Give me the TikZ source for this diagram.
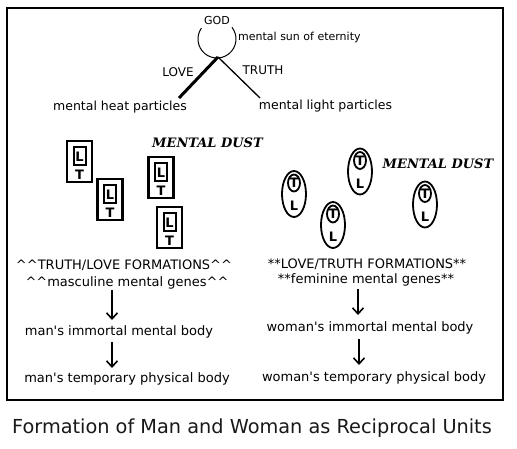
\documentclass[tikz,border=0pt]{standalone}
\usepackage{fontspec}
\setmainfont{DejaVu Sans}
\newfontfamily\dustfont{DejaVu Serif}
\usetikzlibrary{arrows.meta}
\newcommand{\ap}{\textquotesingle}
\tikzset{
  txt/.style={inner sep=0pt, font=\fontsize{13}{15}\selectfont},
  small/.style={inner sep=0pt, font=\fontsize{12}{14}\selectfont},
  big/.style={inner sep=0pt, font=\fontsize{12.5}{15}\selectfont},
  dust/.style={inner sep=0pt, font=\dustfont\bfseries\itshape\fontsize{13}{15}\selectfont},
  tok/.style={inner sep=0pt, font=\bfseries\fontsize{13}{15}\selectfont},
  arr/.style={line width=2pt, -{Straight Barb[length=6pt,width=11pt,line width=1.6pt]}},
  ltbox/.pic={
    \draw[line width=2.6pt] (-12.5,0) rectangle (12.5,41);
    \draw[line width=2pt] (-6,6) rectangle (6,24);
    \node[tok] at (0,15.5) {L};
    \node[tok] at (0,34) {T};
  },
  tlegg/.pic={
    \draw[line width=1.8pt] (0,0) ellipse [x radius=12, y radius=23];
    \draw[line width=1.8pt] (0,-11) ellipse [x radius=6, y radius=8.5];
    \node[tok] at (0,-11) {T};
    \node[tok] at (0,12) {L};
  }
}
\begin{document}
\begin{tikzpicture}[x=1pt,y=-1pt]
\useasboundingbox (0,0) rectangle (517,449);
\fill[white] (0,0) rectangle (517,449);
\draw[line width=1.3pt] (7,8) rectangle (503,400);

% top: God
\node[inner sep=0pt, font=\fontsize{11}{13}\selectfont] (god) at (217,20) {GOD};
\draw[line width=1pt] (217,39) ++(322:19) arc[start angle=322, end angle=575, radius=19];
\node[inner sep=0pt, font=\fontsize{11}{13}\selectfont, anchor=west] (sun) at (238,37) {mental sun of eternity};
\coordinate (apex) at (218,57);
\coordinate (heatend) at (179,98);
\coordinate (lightend) at (260,98);
\draw[line width=3pt] (apex) -- (heatend);
\draw[line width=1.3pt] (apex) -- (lightend);
\node[small] (love) at (178,72) {LOVE};
\node[small] (truth) at (263,70) {TRUTH};
\node[big] (heat) at (120,107) {mental heat particles};
\node[big] (light) at (325.5,106) {mental light particles};

% mental dust
\node[dust] (dustL) at (207.5,143) {MENTAL DUST};
\node[dust] (dustR) at (438,164) {MENTAL DUST};
\pic at (79.5,141) {ltbox};
\pic at (110,179) {ltbox};
\pic at (161,157) {ltbox};
\pic at (169.5,207) {ltbox};
\pic at (294,194) {tlegg};
\pic at (360,171.5) {tlegg};
\pic at (333,225) {tlegg};
\pic at (425,204.5) {tlegg};

% left column
\node[txt] (formL) at (124,265) {\^{}\^{}TRUTH/LOVE FORMATIONS\^{}\^{}};
\node[txt] (genesL) at (127,283) {\^{}\^{}masculine mental genes\^{}\^{}};
\node[txt] (immL) at (119,332) {man\ap s immortal mental body};
\node[txt] (tempL) at (127,379) {man\ap s temporary physical body};
\coordinate (aL1s) at (112,290);
\coordinate (aL1e) at (112,320);
\coordinate (aL2s) at (112,342);
\coordinate (aL2e) at (112,368);
\draw[arr] (aL1s) -- (aL1e);
\draw[arr] (aL2s) -- (aL2e);

% right column
\node[txt] (formR) at (367,264) {**LOVE/TRUTH FORMATIONS**};
\node[txt] (genesR) at (366,280) {**feminine mental genes**};
\node[txt] (immR) at (370,328) {woman\ap s immortal mental body};
\node[txt] (tempR) at (374,378) {woman\ap s temporary physical body};
\coordinate (aR1s) at (358,289);
\coordinate (aR1e) at (358,315);
\coordinate (aR2s) at (359,339);
\coordinate (aR2e) at (359,365);
\draw[arr] (aR1s) -- (aR1e);
\draw[arr] (aR2s) -- (aR2e);

% caption
\node[inner sep=0pt, font=\fontsize{19.3}{22}\selectfont, text=black!90] (title) at (252,428) {Formation of Man and Woman as Reciprocal Units};
\end{tikzpicture}
\end{document}
